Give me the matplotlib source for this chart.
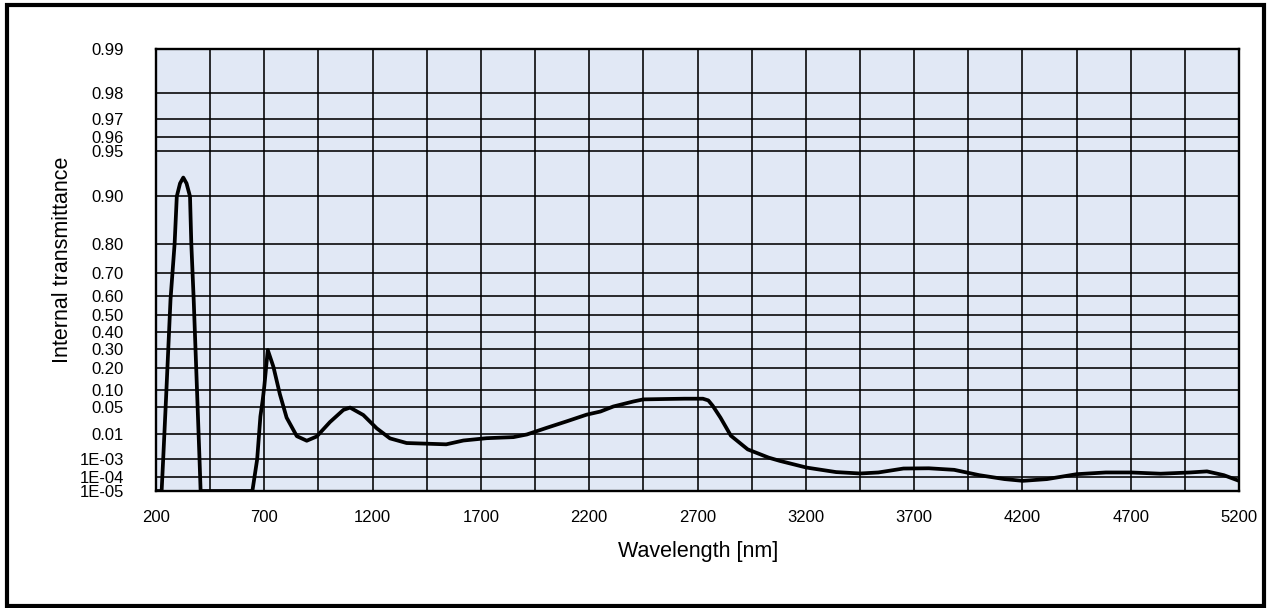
import numpy as np
import matplotlib
matplotlib.use("Agg")
import matplotlib.pyplot as plt
from matplotlib.patches import Rectangle

# wavelength [nm] and internal transmittance
wavelength = [200, 226, 233, 246, 267, 286, 296, 311, 326, 341, 357, 363, 374, 391,
              401, 406,
              645, 667, 682, 693, 700, 716, 742, 772, 803, 850, 896, 942, 1003,
              1065, 1096, 1157, 1219, 1280, 1357, 1465, 1540, 1619, 1727, 1850,
              1912, 2004, 2096, 2188, 2252, 2311, 2404, 2450, 2542, 2640, 2725,
              2750, 2770, 2806, 2854, 2932, 3029, 3081, 3204, 3340, 3451, 3535,
              3651, 3768, 3885, 4001, 4118, 4202, 4313, 4451, 4585, 4702, 4838,
              4974, 5052, 5130, 5200]
transmittance = [1e-5, 1e-5, 9e-4, 0.067, 0.58, 0.80, 0.90, 0.918, 0.925, 0.918,
                 0.90, 0.80, 0.58, 0.067, 9e-4, 1e-5,
                 1e-5, 9.5e-4, 0.030, 0.069, 0.114, 0.296, 0.204, 0.085, 0.028,
                 0.0082, 0.0057, 0.0080, 0.0215,
                 0.0423, 0.0475, 0.0324, 0.0144, 0.0069, 0.0047, 0.0044, 0.0042,
                 0.0058, 0.0070, 0.0076,
                 0.0093, 0.0149, 0.0225, 0.033, 0.039, 0.050, 0.063, 0.069, 0.070,
                 0.071, 0.071,
                 0.066, 0.052, 0.028, 0.0085, 0.00265, 0.00115, 8e-4, 3.6e-4, 2.0e-4,
                 1.65e-4, 1.9e-4,
                 3.2e-4, 3.3e-4, 2.7e-4, 1.3e-4, 7.3e-5, 5.6e-5, 7.3e-5, 1.5e-4,
                 1.9e-4, 1.9e-4, 1.6e-4,
                 1.9e-4, 2.2e-4, 1.3e-4, 5.6e-5]

ytick_vals = [0.99, 0.98, 0.97, 0.96, 0.95, 0.90, 0.80, 0.70, 0.60, 0.50, 0.40,
              0.30, 0.20, 0.10, 0.05, 0.01, 1e-3, 1e-4, 1e-5]
ytick_labels = ["0.99", "0.98", "0.97", "0.96", "0.95", "0.90", "0.80", "0.70",
                "0.60", "0.50", "0.40", "0.30", "0.20", "0.10", "0.05", "0.01",
                "1E-03", "1E-04", "1E-05"]
xtick_vals = list(range(200, 5201, 500))
xgrid_vals = list(range(200, 5201, 250))


def fwd(t):
    # double-log transmittance scale
    t = np.clip(np.asarray(t, dtype=float), 1e-12, 1 - 1e-12)
    return -np.log10(-np.log10(t))


def inv(y):
    return 10 ** (-10 ** (-np.asarray(y, dtype=float)))


plt.rcParams['font.family'] = ['Liberation Sans', 'DejaVu Sans']

W, H = 1271, 608
fig = plt.figure(figsize=(W / 100, H / 100), dpi=100)
ax = fig.add_axes([156 / W, 1 - 491 / H, (1239 - 156) / W, (491 - 49) / H])
ax.set_facecolor('#E1E8F5')

ax.set_yscale('function', functions=(fwd, inv))
ax.set_xlim(200, 5200)
ax.set_ylim(1e-5, 0.99)

ax.set_yticks(ytick_vals)
ax.set_yticklabels(ytick_labels)
ax.set_xticks(xtick_vals)
ax.tick_params(axis='both', which='both', length=0, labelsize=12)
ax.tick_params(axis='y', pad=23)
ax.tick_params(axis='x', pad=14)

for v in xgrid_vals:
    ax.axvline(v, color='black', lw=1.15, zorder=1)
for v in ytick_vals:
    ax.axhline(v, color='black', lw=1.15, zorder=1)

ax.plot(wavelength, transmittance, color='black', lw=2.7, zorder=3,
        solid_joinstyle='round', solid_capstyle='round')

for s in ax.spines.values():
    s.set_linewidth(1.7)
    s.set_zorder(4)

fig.text(698 / W, 1 - 552 / H, 'Wavelength [nm]', fontsize=15.5,
         ha='center', va='center')
fig.text(63 / W, 1 - 260 / H, 'Internal transmittance', fontsize=15.5,
         ha='center', va='center', rotation=90)

fig.patches.append(Rectangle((7 / W, 2 / H), 1 - 14 / W, 1 - 7 / H,
                             transform=fig.transFigure, fill=False,
                             edgecolor='black', lw=3))

fig.savefig('out.png', dpi=100)
